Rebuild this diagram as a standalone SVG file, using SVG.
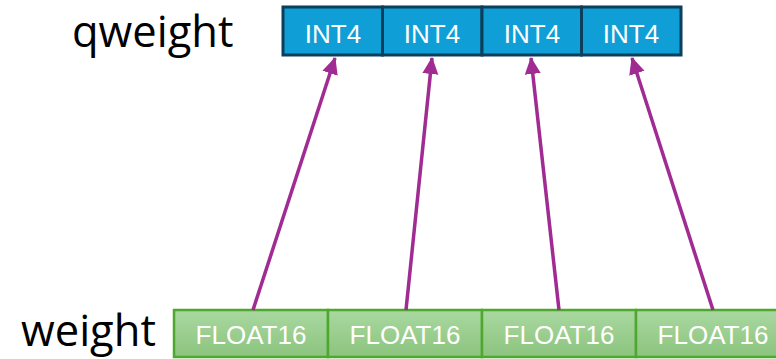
<svg xmlns="http://www.w3.org/2000/svg" width="776" height="359" viewBox="0 0 776 359">
  <style>
    .label { font-family: "Open Sans", "Liberation Sans", sans-serif; font-size: 43.5px; fill: #000; }
    .cell-text { font-family: "Liberation Sans", Arial, sans-serif; font-size: 26px; fill: #fff; text-anchor: middle; }
    .int4 { fill: #0F9ED5; stroke: #0C3F5C; stroke-width: 3; }
    .fp16 { fill: url(#greenFill); stroke: #4EA72E; stroke-width: 2.5; }
    .arrow { stroke: #A02B93; stroke-width: 3.5; fill: none; marker-end: url(#head); }
  </style>
  <defs>
    <linearGradient id="greenFill" x1="0" y1="0" x2="0" y2="1">
      <stop offset="0" stop-color="#A9D8A1"/>
      <stop offset="1" stop-color="#8CC47E"/>
    </linearGradient>
    <marker id="head" markerUnits="userSpaceOnUse" markerWidth="18" markerHeight="18" viewBox="0 0 18 18" refX="16" refY="9" orient="auto">
      <path d="M0,1 L17,9 L0,17 Z" fill="#A02B93"/>
    </marker>
  </defs>

  <rect width="776" height="359" fill="#fff"/>

  <!-- row labels -->
  <text id="label-qweight" class="label" x="72" y="46.5">qweight</text>
  <text id="label-weight" class="label" x="21" y="346">weight</text>

  <!-- packed INT4 row -->
  <g id="int4-0"><rect class="int4" x="283" y="7" width="99.5" height="48"/><text class="cell-text" x="333" y="43">INT4</text></g>
  <g id="int4-1"><rect class="int4" x="382.5" y="7" width="99.5" height="48"/><text class="cell-text" x="432" y="43">INT4</text></g>
  <g id="int4-2"><rect class="int4" x="482" y="7" width="99.5" height="48"/><text class="cell-text" x="532" y="43">INT4</text></g>
  <g id="int4-3"><rect class="int4" x="581.5" y="7" width="99.5" height="48"/><text class="cell-text" x="631" y="43">INT4</text></g>

  <!-- FLOAT16 row -->
  <g id="fp16-0"><rect class="fp16" x="174" y="310" width="154" height="47"/><text class="cell-text" x="251" y="344">FLOAT16</text></g>
  <g id="fp16-1"><rect class="fp16" x="328" y="310" width="154" height="47"/><text class="cell-text" x="405" y="344">FLOAT16</text></g>
  <g id="fp16-2"><rect class="fp16" x="482" y="310" width="154" height="47"/><text class="cell-text" x="559" y="344">FLOAT16</text></g>
  <g id="fp16-3"><rect class="fp16" x="636" y="310" width="154" height="47"/><text class="cell-text" x="713" y="344">FLOAT16</text></g>

  <!-- quantization arrows -->
  <g id="connectors">
    <line class="arrow" x1="253" y1="310" x2="335" y2="58"/>
    <line class="arrow" x1="406" y1="310" x2="432" y2="58"/>
    <line class="arrow" x1="559" y1="310" x2="531" y2="58"/>
    <line class="arrow" x1="713" y1="310" x2="632" y2="58"/>
  </g>
</svg>
